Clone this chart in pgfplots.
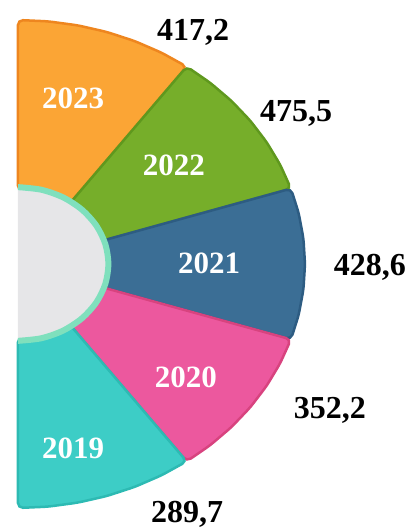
\documentclass[border=0pt]{standalone}
\usepackage{pgfplots}
\pgfplotsset{compat=1.18}
\usepackage{fontspec}
\setmainfont{Liberation Serif}

\definecolor{cOrange}{HTML}{FBA535}
\definecolor{cOrangeD}{HTML}{EE861F}
\definecolor{cGreen}{HTML}{76AE2A}
\definecolor{cGreenD}{HTML}{5F981E}
\definecolor{cBlue}{HTML}{3B6E95}
\definecolor{cBlueD}{HTML}{2D5C82}
\definecolor{cPink}{HTML}{EC589E}
\definecolor{cPinkD}{HTML}{D8437F}
\definecolor{cTeal}{HTML}{3DCDC6}
\definecolor{cTealD}{HTML}{2DBAB3}
\definecolor{cHole}{HTML}{E6E6E8}
\definecolor{cRing}{HTML}{7FE0BD}

\begin{document}
\begin{tikzpicture}
\begin{axis}[
    width=411pt, height=529pt, scale only axis,
    hide axis,
    xmin=-0.0627, xmax=1.3693,
    ymin=-1.0861, ymax=1.0820,
    clip=false,
    sector/.style={line width=2.5pt, rounded corners=5pt, data cs=polar},
]
% sectors: (angle, radius), all five of equal size
\addplot[sector, fill=cOrange, draw=cOrangeD] coordinates {
    (90,1) (84,1) (78,1) (72,1) (66,1) (60,1) (54,1)
    (54,0.3) (60,0.3) (66,0.3) (72,0.3) (78,0.3) (84,0.3) (90,0.3)} --cycle;
\addplot[sector, fill=cGreen, draw=cGreenD] coordinates {
    (54,1) (48,1) (42,1) (36,1) (30,1) (24,1) (18,1)
    (18,0.3) (24,0.3) (30,0.3) (36,0.3) (42,0.3) (48,0.3) (54,0.3)} --cycle;
\addplot[sector, fill=cBlue, draw=cBlueD] coordinates {
    (18,1) (12,1) (6,1) (0,1) (-6,1) (-12,1) (-18,1)
    (-18,0.3) (-12,0.3) (-6,0.3) (0,0.3) (6,0.3) (12,0.3) (18,0.3)} --cycle;
\addplot[sector, fill=cPink, draw=cPinkD] coordinates {
    (-18,1) (-24,1) (-30,1) (-36,1) (-42,1) (-48,1) (-54,1)
    (-54,0.3) (-48,0.3) (-42,0.3) (-36,0.3) (-30,0.3) (-24,0.3) (-18,0.3)} --cycle;
\addplot[sector, fill=cTeal, draw=cTealD] coordinates {
    (-54,1) (-60,1) (-66,1) (-72,1) (-78,1) (-84,1) (-90,1)
    (-90,0.3) (-84,0.3) (-78,0.3) (-72,0.3) (-66,0.3) (-60,0.3) (-54,0.3)} --cycle;

% centre hole
\addplot[fill=cHole, draw=none, data cs=polar] coordinates {
    (90,0.315) (75,0.315) (60,0.315) (45,0.315) (30,0.315) (15,0.315) (0,0.315)
    (-15,0.315) (-30,0.315) (-45,0.315) (-60,0.315) (-75,0.315) (-90,0.315)} --cycle;
\addplot[draw=cRing, line width=6pt, smooth, data cs=polar] coordinates {
    (90,0.315) (75,0.315) (60,0.315) (45,0.315) (30,0.315) (15,0.315) (0,0.315)
    (-15,0.315) (-30,0.315) (-45,0.315) (-60,0.315) (-75,0.315) (-90,0.315)};

% year labels
\addplot[only marks, mark=none, point meta=explicit symbolic,
    nodes near coords, nodes near coords align={center},
    nodes near coords style={anchor=base, text=white, font=\fontsize{31}{31}\selectfont\bfseries}]
    table[meta=lab] {
x      y       lab
0.192  0.639   2023
0.543  0.361   2022
0.666  -0.037  2021
0.585  -0.508  2020
0.192  -0.799  2019
};

% values
\addplot[only marks, mark=none, point meta=explicit symbolic,
    nodes near coords, nodes near coords align={center},
    nodes near coords style={anchor=base, text=black, font=\fontsize{32}{32}\selectfont\bfseries}]
    table[meta=lab] {
x      y       lab
0.610  0.918   {417,2}
0.969  0.582   {475,5}
1.226  -0.049  {428,6}
1.087  -0.635  {352,2}
0.589  -1.058  {289,7}
};
\end{axis}
\pgfresetboundingbox
\path (current axis.south west) rectangle (current axis.north east);
\end{tikzpicture}
\end{document}
